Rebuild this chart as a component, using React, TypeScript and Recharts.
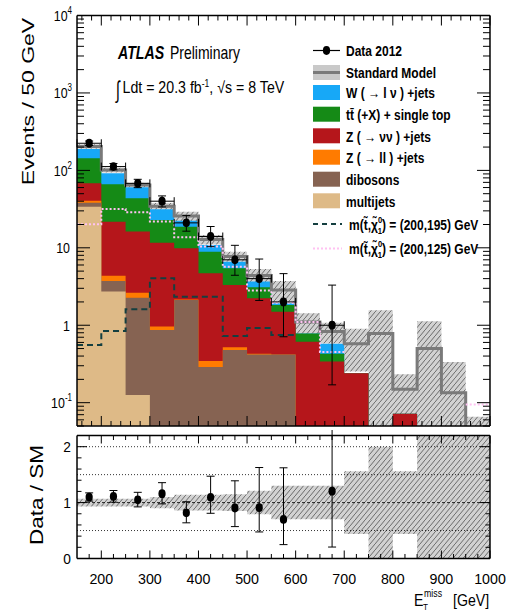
import React from 'react';
import { ComposedChart, Area, Line, Scatter, XAxis, YAxis, ErrorBar, ReferenceLine } from 'recharts';

const FONT = '"Liberation Sans", Arial, Helvetica, sans-serif';

// E_T^miss bin edges [GeV]
const BIN_EDGES = [150, 200, 250, 300, 350, 400, 450, 500, 550, 600, 650, 700, 750, 800, 850, 900, 950, 1000];

// Background contributions per bin (events / 50 GeV), bottom of the stack first
const MULTIJETS = [34.0, 2.72, 0.126, 0, 0, 0, 0, 0, 0, 0, 0, 0, 0, 0, 0, 0, 0];
const DIBOSONS = [4.3, 1.01, 2.14, 0.87, 2.12, 0.29, 0.48, 0.42, 0.42, 0, 0, 0, 0, 0, 0, 0, 0];
const Z_LL = [2.3, 0.64, 0.37, 0.09, 0.03, 0.056, 0.04, 0.01, 0, 0, 0, 0, 0, 0, 0, 0, 0];
const Z_NUNU = [27.6, 17.4, 13.56, 10.7, 7.72, 4.34, 2.79, 1.8, 1.07, 0.61, 0.34, 0.24, 0, 0.072, 0, 0, 0];
const TTBAR = [75.3, 44.4, 27.4, 11.2, 8.9, 4.23, 2.14, 0.87, 0.34, 0.17, 0.09, 0, 0, 0, 0, 0, 0];
const W_JETS = [45.5, 25.6, 16.9, 8.6, 3.6, 1.98, 1.18, 0.56, 0.09, 0, 0.146, 0, 0, 0, 0, 0, 0];

// Standard Model total and its relative uncertainty
const SM_TOTAL = [204, 101, 64.8, 34.5, 25.7, 12.8, 7.75, 4.4, 2.86, 1.1, 0.83, 0.576, 0.78, 0.149, 0.5, 0.134, 0.03];
const SM_REL_UNC = [0.07, 0.07, 0.07, 0.1, 0.14, 0.14, 0.15, 0.21, 0.3, 0.3, 0.3, 0.56, 1.0, 0.56, 1.25, 1.5, 1.2];

// Observed events with asymmetric Poisson errors
const DATA = [224, 112, 68, 40, 21, 14, 7, 4, 2, null, 1, null, null, null, null, null, null];
const DATA_ERR_DOWN = [14.5, 10.3, 8.2, 6.3, 4.6, 3.65, 2.58, 1.91, 1.29, null, 0.83, null, null, null, null, null, null];
const DATA_ERR_UP = [15.5, 10.8, 8.7, 6.8, 5.1, 4.84, 3.77, 3.16, 2.64, null, 2.3, null, null, null, null, null, null];

// Signal benchmarks m(stop, neutralino)
const SIGNAL_200_195 = [0.557, 0.844, 1.61, 4.05, 2.34, 2.34, 0.727, 0.92, 0.75, null, null, null, null, null, null, null, null];
const SIGNAL_200_125 = [20.1, 31.8, 28.8, 21.8, 13.7, 10.4, 5.7, 2.8, 1.95, 1.1, 0.45, null, null, null, null, null, 0.095];

// Axis ticks
const X_MAJOR = [200, 300, 400, 500, 600, 700, 800, 900, 1000];
const Y_MAJOR_UP = [0.1, 1, 10, 100, 1000, 10000];
const R_MAJOR = [0, 1, 2];

const X_MINOR_UP: number[] = [];
for (let v = 160; v < 1000; v += 20) if (v % 100 !== 0) X_MINOR_UP.push(v);
const X_MINOR_LO: number[] = [];
for (let v = 175; v < 1000; v += 25) if (v % 100 !== 0) X_MINOR_LO.push(v);
const Y_MINOR_UP: number[] = [];
[0.01, 0.1, 1, 10, 100, 1000].forEach((d) => {
  for (let k = 2; k <= 9; k++) {
    const v = +(k * d).toPrecision(3);
    if (v >= 0.05 && v <= 10000) Y_MINOR_UP.push(v);
  }
});
const R_MINOR = [0.2, 0.4, 0.6, 0.8, 1.2, 1.4, 1.6, 1.8, 2.2];

const NBINS = SM_TOTAL.length;
const FLOOR = 1e-3;
const Y_DOMAIN: [number, number] = [0.05, 10000];
const X_DOMAIN: [number, number] = [150, 1000];
const R_DOMAIN: [number, number] = [0, 2.2];
const THIN = 0.01; // axes take (almost) no room: the margins define the frame

const STACK = [
  { key: 'multijets', values: MULTIJETS, color: '#deba87' },
  { key: 'dibosons', values: DIBOSONS, color: '#866352' },
  { key: 'zll', values: Z_LL, color: '#ff7b00' },
  { key: 'znunu', values: Z_NUNU, color: '#b5161b' },
  { key: 'ttbar', values: TTBAR, color: '#158a16' },
  { key: 'wjets', values: W_JETS, color: '#17a8f7' },
];

// Step rows: one per bin edge, the last edge repeats the last bin
const upperRows = BIN_EDGES.map((x, i) => {
  const b = Math.min(i, NBINS - 1);
  const row: any = { x };
  let acc = 0;
  STACK.forEach((s) => {
    acc += s.values[b];
    row[s.key] = acc > 0 ? acc : FLOOR;
  });
  row.sm = SM_TOTAL[b];
  row.band = [Math.max(SM_TOTAL[b] * (1 - SM_REL_UNC[b]), FLOOR), SM_TOTAL[b] * (1 + SM_REL_UNC[b])];
  return row;
});

const ratioRows = BIN_EDGES.map((x, i) => {
  const b = Math.min(i, NBINS - 1);
  return { x, band: [1 - SM_REL_UNC[b], 1 + SM_REL_UNC[b]] };
});

// Line rows that break where a histogram has no entries
function segmentRows(values: (number | null)[]) {
  const rows: { x: number; v: number | null }[] = [];
  values.forEach((v, i) => {
    if (v == null) return;
    rows.push({ x: BIN_EDGES[i], v });
    if (values[i + 1] == null) {
      rows.push({ x: BIN_EDGES[i + 1], v });
      rows.push({ x: BIN_EDGES[i + 1], v: null });
    }
  });
  return rows;
}

const dataPoints = DATA.flatMap((v, i) =>
  v == null
    ? []
    : [{
        x: (BIN_EDGES[i] + BIN_EDGES[i + 1]) / 2,
        y: v,
        ex: (BIN_EDGES[i + 1] - BIN_EDGES[i]) / 2,
        ey: [DATA_ERR_DOWN[i] as number, DATA_ERR_UP[i] as number],
      }]
);

const ratioPoints = DATA.flatMap((v, i) =>
  v == null
    ? []
    : [{
        x: (BIN_EDGES[i] + BIN_EDGES[i + 1]) / 2,
        y: v / SM_TOTAL[i],
        ey: [(DATA_ERR_DOWN[i] as number) / SM_TOTAL[i], (DATA_ERR_UP[i] as number) / SM_TOTAL[i]],
      }]
);

const DataMarker = (p: any) =>
  p.cx == null || p.cy == null ? <g /> : <ellipse cx={p.cx} cy={p.cy} rx={3.6} ry={4.4} fill="#000" />;

const LogTick = (props: any) => {
  const { y, payload } = props;
  const e = Math.round(Math.log10(payload.value));
  if (e === 0 || e === 1) {
    return (
      <text transform={`translate(70,${y + 5.5}) scale(0.8,1)`} fontFamily={FONT} fontSize={15.5} textAnchor="end" fill="#000">
        {e === 0 ? '1' : '10'}
      </text>
    );
  }
  return (
    <text transform={`translate(72,${y + 5.5}) scale(0.8,1)`} fontFamily={FONT} fontSize={15.5} textAnchor="end" fill="#000">
      10<tspan dy={-7} fontSize={10}>{e}</tspan>
    </text>
  );
};

const RatioTick = (props: any) => (
  <text transform={`translate(71,${props.y + 5.3}) scale(0.95,1)`} fontFamily={FONT} fontSize={14.5} textAnchor="end" fill="#000">
    {props.payload.value}
  </text>
);

const XLabelTick = (props: any) => (
  <text transform={`translate(${props.x},154) scale(0.95,1)`} fontFamily={FONT} fontSize={15} textAnchor="middle" fill="#000">
    {props.payload.value}
  </text>
);

// Inward tick marks on both sides of the frame, placed by the axis scales
const vTickShape = (len: number) => (p: any) => {
  const x = p.x1;
  const top = Math.min(p.y1, p.y2);
  const bot = Math.max(p.y1, p.y2);
  return (
    <g>
      <line x1={x} x2={x} y1={top} y2={top + len} stroke="#000" strokeWidth={1} />
      <line x1={x} x2={x} y1={bot - len} y2={bot} stroke="#000" strokeWidth={1} />
    </g>
  );
};
const hTickShape = (len: number) => (p: any) => {
  const y = p.y1;
  const left = Math.min(p.x1, p.x2);
  const right = Math.max(p.x1, p.x2);
  return (
    <g>
      <line x1={left} x2={left + len} y1={y} y2={y} stroke="#000" strokeWidth={1} />
      <line x1={right - len} x2={right} y1={y} y2={y} stroke="#000" strokeWidth={1} />
    </g>
  );
};

function frameTicks(xMajor: number[], xMinor: number[], yMajor: number[], yMinor: number[], lens: number[]) {
  const [xl, xs, yl, ys] = lens;
  return [
    ...xMajor.map((v) => <ReferenceLine key={`xM${v}`} xAxisId="x" yAxisId="y" x={v} ifOverflow="visible" shape={vTickShape(xl)} />),
    ...xMinor.map((v) => <ReferenceLine key={`xm${v}`} xAxisId="x" yAxisId="y" x={v} ifOverflow="visible" shape={vTickShape(xs)} />),
    ...yMajor.map((v) => <ReferenceLine key={`yM${v}`} xAxisId="x" yAxisId="y" y={v} ifOverflow="visible" shape={hTickShape(yl)} />),
    ...yMinor.map((v) => <ReferenceLine key={`ym${v}`} xAxisId="x" yAxisId="y" y={v} ifOverflow="visible" shape={hTickShape(ys)} />),
  ];
}

const frame = { stroke: '#000', strokeWidth: 1.5 };

function HatchDef({ id }: { id: string }) {
  return (
    <defs>
      <pattern id={id} patternUnits="userSpaceOnUse" width={5} height={6}>
        <rect width={5} height={6} fill="#d2d2d2" />
        <path d="M0,6 L5,0 M-1,1 L0.5,-0.8 M4.5,6.8 L6,5" stroke="#6c6c6c" strokeWidth={1} />
      </pattern>
    </defs>
  );
}

function UpperPanel() {
  const xCommon = { type: 'number' as const, dataKey: 'x', domain: X_DOMAIN, allowDataOverflow: true, interval: 0 as const, tick: false, tickLine: false, height: THIN, ticks: X_MAJOR };
  const yCommon = { type: 'number' as const, scale: 'log' as const, domain: Y_DOMAIN, allowDataOverflow: true, interval: 0 as const, tickLine: false, width: THIN, ticks: Y_MAJOR_UP };
  return (
    <ComposedChart width={506} height={430} data={upperRows} margin={{ top: 15.5, right: 16, bottom: 4, left: 77 }}>
      <HatchDef id="hatchUp" />
      <Area xAxisId="x" yAxisId="y" type="stepAfter" dataKey="band" fill="url(#hatchUp)" fillOpacity={1} stroke="none" isAnimationActive={false} />
      {[...STACK].reverse().map((s) => (
        <Area key={s.key} xAxisId="x" yAxisId="y" type="stepAfter" dataKey={s.key} fill={s.color} fillOpacity={1} stroke="none" isAnimationActive={false} />
      ))}
      <Line xAxisId="x" yAxisId="y" type="stepAfter" dataKey="sm" stroke="#7a7a7a" strokeWidth={3} dot={false} isAnimationActive={false} />
      <Line xAxisId="x" yAxisId="y" data={segmentRows(SIGNAL_200_195)} type="stepAfter" dataKey="v" stroke="#143f40" strokeWidth={2} strokeDasharray="6 4" dot={false} isAnimationActive={false} />
      <Line xAxisId="x" yAxisId="y" data={segmentRows(SIGNAL_200_125)} type="stepAfter" dataKey="v" stroke="#ffc2f2" strokeWidth={2} strokeDasharray="2 2" dot={false} isAnimationActive={false} />
      <Scatter xAxisId="x" yAxisId="y" data={dataPoints} dataKey="y" shape={DataMarker} isAnimationActive={false}>
        <ErrorBar dataKey="ey" direction="y" width={4} stroke="#000" strokeWidth={1} isAnimationActive={false} />
        <ErrorBar dataKey="ex" direction="x" width={4} stroke="#000" strokeWidth={1} isAnimationActive={false} />
      </Scatter>

      <XAxis xAxisId="x" {...xCommon} axisLine={frame} />
      <XAxis xAxisId="xt" orientation="top" {...xCommon} axisLine={frame} />
      <YAxis yAxisId="y" {...yCommon} tick={LogTick} axisLine={frame} />
      <YAxis yAxisId="yr" orientation="right" {...yCommon} tick={false} axisLine={frame} />
      {frameTicks(X_MAJOR, X_MINOR_UP, Y_MAJOR_UP, Y_MINOR_UP, [10, 5, 13, 7])}
    </ComposedChart>
  );
}

function RatioPanel() {
  const xCommon = { type: 'number' as const, dataKey: 'x', domain: X_DOMAIN, allowDataOverflow: true, interval: 0 as const, tickLine: false, height: THIN, ticks: X_MAJOR };
  const yCommon = { type: 'number' as const, domain: R_DOMAIN, allowDataOverflow: true, interval: 0 as const, tickLine: false, width: THIN, ticks: R_MAJOR };
  return (
    <ComposedChart width={506} height={181} data={ratioRows} margin={{ top: 5.5, right: 16, bottom: 52.5, left: 77 }}>
      <HatchDef id="hatchRatio" />
      <ReferenceLine xAxisId="x" yAxisId="y" y={0.5} stroke="#000" strokeWidth={0.8} strokeDasharray="1 2" />
      <ReferenceLine xAxisId="x" yAxisId="y" y={1.5} stroke="#000" strokeWidth={0.8} strokeDasharray="1 2" />
      <ReferenceLine xAxisId="x" yAxisId="y" y={2} stroke="#000" strokeWidth={0.8} strokeDasharray="1 2" />
      <ReferenceLine xAxisId="x" yAxisId="y" y={1} stroke="#000" strokeWidth={0.8} strokeDasharray="3 2" />
      <Area xAxisId="x" yAxisId="y" type="stepAfter" dataKey="band" fill="url(#hatchRatio)" fillOpacity={1} stroke="none" isAnimationActive={false} />
      <Scatter xAxisId="x" yAxisId="y" data={ratioPoints} dataKey="y" shape={DataMarker} isAnimationActive={false}>
        <ErrorBar dataKey="ey" direction="y" width={4} stroke="#000" strokeWidth={1} isAnimationActive={false} />
      </Scatter>

      <XAxis xAxisId="x" {...xCommon} tick={XLabelTick} axisLine={frame} />
      <XAxis xAxisId="xt" orientation="top" {...xCommon} tick={false} axisLine={frame} />
      <YAxis yAxisId="y" {...yCommon} tick={RatioTick} axisLine={frame} />
      <YAxis yAxisId="yr" orientation="right" {...yCommon} tick={false} axisLine={frame} />
      {frameTicks(X_MAJOR, X_MINOR_LO, R_MAJOR, R_MINOR, [8, 4.5, 10, 4.5])}
    </ComposedChart>
  );
}

function T(props: { x: number; y: number; size: number; sx?: number; weight?: string; italic?: boolean; anchor?: 'start' | 'middle' | 'end'; fill?: string; children: React.ReactNode }) {
  const { x, y, size, sx = 1, weight = 'normal', italic = false, anchor = 'start', fill = '#000', children } = props;
  return (
    <text transform={`translate(${x},${y}) scale(${sx},1)`} fontFamily={FONT} fontSize={size} fontWeight={weight} fontStyle={italic ? 'italic' : 'normal'} textAnchor={anchor} fill={fill}>
      {children}
    </text>
  );
}

const LEGEND_ROWS = [
  { label: 'Data 2012', kind: 'data' },
  { label: 'Standard Model', kind: 'sm' },
  { label: 'W ( \u2192 l \u03BD ) +jets', kind: 'fill', color: '#17a8f7' },
  { label: 'tt\u0304 (+X) + single top', kind: 'fill', color: '#158a16' },
  { label: 'Z ( \u2192 \u03BD\u03BD ) +jets', kind: 'fill', color: '#b5161b' },
  { label: 'Z ( \u2192 ll ) +jets', kind: 'fill', color: '#ff7b00' },
  { label: 'dibosons', kind: 'fill', color: '#866352' },
  { label: 'multijets', kind: 'fill', color: '#deba87' },
  { label: '(200,195)', kind: 'dash' },
  { label: '(200,125)', kind: 'dot' },
];
const LEGEND_Y = [50.5, 72.5, 92.5, 114.2, 135.8, 157.2, 179.2, 200.8, 224, 248.5];

function LegendBlock() {
  return (
    <g>
      {LEGEND_ROWS.map((r, i) => {
        const cy = LEGEND_Y[i];
        let swatch: React.ReactNode = null;
        if (r.kind === 'data') {
          swatch = (
            <g>
              <line x1={313} x2={340} y1={cy} y2={cy} stroke="#000" strokeWidth={1.2} />
              <ellipse cx={326.5} cy={cy} rx={3.6} ry={4.4} fill="#000" />
            </g>
          );
        } else if (r.kind === 'sm') {
          swatch = (
            <g>
              <rect x={313} y={cy - 7.5} width={27} height={15} fill="#c9c9c9" />
              <line x1={313} x2={340} y1={cy} y2={cy} stroke="#7a7a7a" strokeWidth={3} />
            </g>
          );
        } else if (r.kind === 'fill') {
          swatch = <rect x={313} y={cy - 7.5} width={27} height={15} fill={r.color} />;
        } else if (r.kind === 'dash') {
          swatch = <line x1={313} x2={342} y1={cy} y2={cy} stroke="#143f40" strokeWidth={2} strokeDasharray="5 4" />;
        } else {
          swatch = <line x1={313} x2={342} y1={cy} y2={cy} stroke="#ffc2f2" strokeWidth={2} strokeDasharray="2 2" />;
        }
        const isSignal = r.kind === 'dash' || r.kind === 'dot';
        return (
          <g key={i}>
            {swatch}
            {isSignal ? (
              <text transform={`translate(349,${cy + 5.5}) scale(0.8,1)`} fontFamily={FONT} fontSize={15} fontWeight="bold" fill="#000">
                m(t{'\u0303'},{'\u03C7\u0303'}
                <tspan dy={-7} fontSize={9.5}>0</tspan>
                <tspan dx={-5.5} dy={11} fontSize={9.5}>1</tspan>
                <tspan dy={-4}>{') = ' + r.label + ' GeV'}</tspan>
              </text>
            ) : (
              <T x={346} y={cy + 5.8} size={15} sx={0.8} weight="bold">{r.label}</T>
            )}
          </g>
        );
      })}
    </g>
  );
}

function Annotations() {
  return (
    <svg width={506} height={611} style={{ position: 'absolute', left: 0, top: 0, pointerEvents: 'none' }}>
      <T x={118} y={59.3} size={17.5} sx={0.81} weight="bold" italic>ATLAS</T>
      <T x={170} y={59.3} size={17.5} sx={0.8}>Preliminary</T>
      <T x={116} y={98} size={24} sx={0.6}>{'\u222B'}</T>
      <text transform="translate(122.5,93.3) scale(0.86,1)" fontFamily={FONT} fontSize={16.5} fill="#000">
        Ldt = 20.3 fb<tspan dy={-6} fontSize={10}>-1</tspan>
        <tspan dy={6}>{', \u221As = 8 TeV'}</tspan>
      </text>
      <LegendBlock />

      <text transform="translate(33.5,101.5) rotate(-90) scale(1,0.72)" fontFamily={FONT} fontSize={23} textAnchor="middle" fill="#000">
        Events / 50 GeV
      </text>
      <text transform="translate(43,495) rotate(-90) scale(1,0.83)" fontFamily={FONT} fontSize={22.5} textAnchor="middle" fill="#000">
        Data / SM
      </text>

      <T x={414} y={606} size={16.5} sx={0.86}>E</T>
      <T x={423} y={610} size={9} sx={0.9}>T</T>
      <T x={424} y={597} size={10} sx={0.88}>miss</T>
      <T x={453} y={606} size={16.5} sx={0.86}>[GeV]</T>
    </svg>
  );
}

export default function App() {
  return (
    <div style={{ position: 'absolute', left: 0, top: 0, width: 506, height: 611, background: '#fff', overflow: 'hidden' }}>
      <div style={{ position: 'absolute', left: 0, top: 0 }}>
        <UpperPanel />
      </div>
      <div style={{ position: 'absolute', left: 0, top: 430 }}>
        <RatioPanel />
      </div>
      <Annotations />
    </div>
  );
}
